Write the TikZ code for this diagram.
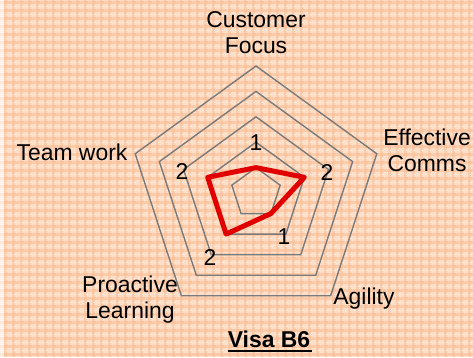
\documentclass[tikz,border=0pt]{standalone}
\usepackage{fontspec}
\setmainfont{Liberation Sans}
\definecolor{bgbase}{HTML}{FDE0C9}
\definecolor{bgstripe}{HTML}{FABD94}
\definecolor{gridgray}{HTML}{7A7A7A}
\definecolor{datared}{HTML}{E00000}
\tikzset{
  lbl/.style={font=\fontsize{23}{26}\selectfont, align=center, inner sep=0pt, text=black},
  ring/.style={draw=gridgray, line width=1.4bp, line join=miter},
  series/.style={draw=datared, line width=5bp, line join=round}
}
\begin{document}
\begin{tikzpicture}[x=1bp,y=1bp]
\useasboundingbox (0,0) rectangle (473,357);
% background gingham
\fill[bgbase] (0,0) rectangle (473,357);
\foreach \i in {0,...,59} {
  \fill[bgstripe, opacity=0.55] (4+\i*8,0) rectangle (7+\i*8,357);
  \fill[bgstripe, opacity=0.55] (0,\i*8+1) rectangle (473,\i*8+4);
}
\foreach \i in {0,...,59} {
  \foreach \j in {0,...,44} {
    \fill[white] (6+\i*8,\j*8+6) rectangle (7+\i*8,\j*8+7);
  }
}
\fill[white, opacity=0.6] (0,0) rectangle (4,357);
% rings
\begin{scope}[shift={(256,164)}]
  \foreach \r in {25.4,50.8,76.2,101.6,127} {
    \draw[ring] (90:\r) -- (18:\r) -- (-54:\r) -- (-126:\r) -- (162:\r) -- cycle;
  }
  \coordinate (p1) at (90:25.4);
  \coordinate (p2) at (18:50.8);
  \coordinate (p3) at (-54:25.4);
  \coordinate (p4) at (-126:50.8);
  \coordinate (p5) at (162:50.8);
  \draw[series] (p1) -- (p2) -- (p3) -- (p4) -- (p5) -- cycle;
\end{scope}
% data labels
\node[lbl] (d1) at (256,214) {1};
\node[lbl] (d2) at (327,185) {2};
\node[lbl] (d3) at (284,120) {1};
\node[lbl] (d4) at (210,100) {2};
\node[lbl] (d5) at (182,186) {2};
% axis labels
\node[lbl] (cf) at (256,324) {Customer\\Focus};
\node[lbl] (ec) at (427,207) {Effective\\Comms};
\node[lbl] (ag) at (364,58) {Agility};
\node[lbl] (pl) at (130,57) {Proactive\\Learning};
\node[lbl] (tw) at (72,205) {Team work};
% title
\node[lbl, font=\fontsize{23}{26}\selectfont\bfseries] (ttl) at (269,18) {Visa B6};
\draw[line width=1.6bp] (ttl.south west) ++(0,-3.5) -- ++(84,0);
\end{tikzpicture}
\end{document}
